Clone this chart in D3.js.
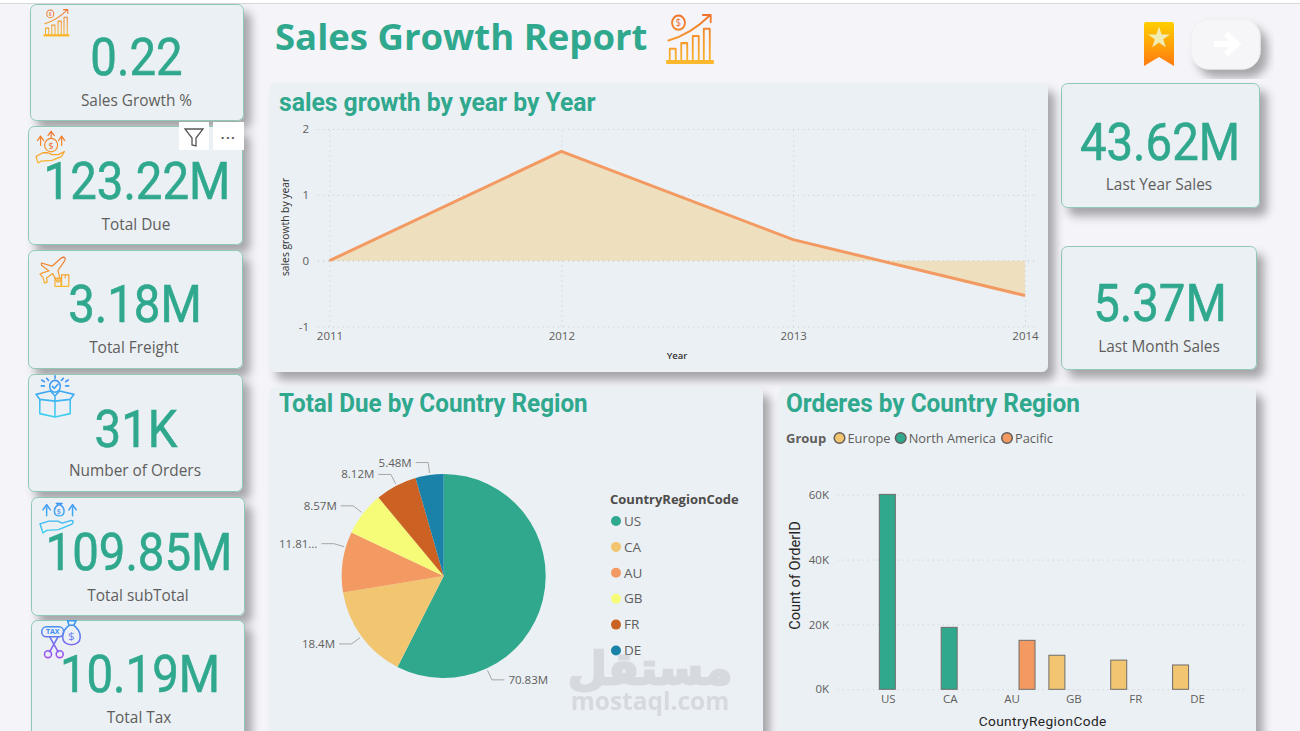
<!DOCTYPE html>
<html>
<head>
<meta charset="utf-8">
<script src="https://cdn.jsdelivr.net/npm/d3@7"></script>
<style>
  html, body { margin: 0; padding: 0; background: #f4f4f9; overflow: hidden; }
  svg { display: block; }
  text { font-family: "Open Sans", sans-serif; }
  .grid line { stroke: #c9cccf; stroke-dasharray: 1 4; }
  .grid .domain { display: none; }
  .ticks text { fill: #605e5c; font-size: 11.5px; }
</style>
</head>
<body>
<div id="chart"></div>
<script>
// kpi cards
var cardValues = ["0.22", "123.22M", "3.18M", "31K", "109.85M", "10.19M", "43.62M", "5.37M"];
var cardLabels = ["Sales Growth %", "Total Due", "Total Freight", "Number of Orders", "Total subTotal", "Total Tax", "Last Year Sales", "Last Month Sales"];

// line chart
var years = [2011, 2012, 2013, 2014];
var growth = [0, 1.66, 0.32, -0.53];
var growthTicks = [-1, 0, 1, 2];

// pie
var pieCodes = ["US", "CA", "AU", "GB", "FR", "DE"];
var totalDue = [70.83, 18.4, 11.81, 8.57, 8.12, 5.48];
var pieLabels = ["70.83M", "18.4M", "11.81...", "8.57M", "8.12M", "5.48M"];

// bars
var barCodes = ["US", "CA", "AU", "GB", "FR", "DE"];
var orderCounts = [60100, 19100, 15100, 10500, 9000, 7500];
var orderGroups = ["North America", "North America", "Pacific", "Europe", "Europe", "Europe"];
var groupNames = ["Europe", "North America", "Pacific"];
var orderTicks = [0, 20000, 40000, 60000];

var teal = "#2fa88e";
var grey = "#605e5c";
var din = "Roboto, sans-serif";

var svg = d3.select("#chart").append("svg").attr("width", 1300).attr("height", 731);
var defs = svg.append("defs");

var shadow = defs.append("filter").attr("id", "shadow")
    .attr("x", "-10%").attr("y", "-10%").attr("width", "130%").attr("height", "130%");
shadow.append("feDropShadow").attr("dx", 7).attr("dy", 8).attr("stdDeviation", 5)
    .attr("flood-color", "#000").attr("flood-opacity", 0.32);

function gradient(id, c1, c2) {
    var g = defs.append("linearGradient").attr("id", id)
        .attr("gradientUnits", "userSpaceOnUse")
        .attr("x1", 0).attr("y1", 0).attr("x2", 0).attr("y2", 100);
    g.append("stop").attr("offset", 0).attr("stop-color", c1);
    g.append("stop").attr("offset", 1).attr("stop-color", c2);
}
gradient("orange", "#ee6f2d", "#fbb92e");
gradient("blue", "#3d8df5", "#3fd0f0");
gradient("purple", "#2f9df0", "#a44df0");

// top edge of the browser window
svg.append("rect").attr("width", 1300).attr("height", 3).attr("fill", "#fff");
svg.append("rect").attr("y", 3).attr("width", 1300).attr("height", 1).attr("fill", "#d8d8da");

function panel(x, y, w, h) {
    svg.append("rect").attr("x", x).attr("y", y).attr("width", w).attr("height", h)
        .attr("rx", 7).attr("fill", "#ebf0f4").attr("filter", "url(#shadow)");
}

// din-ish text: roboto squeezed a bit
function squeezed(x, y, str, size, weight, anchor, fill, squeeze) {
    var t = svg.append("text").attr("x", x).attr("y", y).text(str)
        .attr("font-size", size).attr("font-weight", weight)
        .attr("text-anchor", anchor).attr("fill", fill)
        .style("font-family", din);
    var len = t.node().getComputedTextLength();
    t.attr("textLength", len * squeeze).attr("lengthAdjust", "spacingAndGlyphs");
    return t;
}

// ---- cards
var cardBoxes = [
    {x: 30, y: 4, w: 213, h: 116, cx: 136.5, vy: 75, ly: 106},
    {x: 28, y: 126, w: 214, h: 118, cx: 137, vy: 199, ly: 229.5},
    {x: 28, y: 250, w: 214, h: 118, cx: 135, vy: 322, ly: 352.5},
    {x: 28, y: 374, w: 214, h: 117, cx: 136, vy: 447, ly: 476},
    {x: 31, y: 497, w: 213, h: 118, cx: 139, vy: 570, ly: 600.5},
    {x: 31, y: 620, w: 213, h: 130, cx: 140, vy: 692, ly: 722.5},
    {x: 1061, y: 83, w: 198, h: 124, cx: 1160, vy: 160, ly: 189.5},
    {x: 1061, y: 246, w: 195, h: 123, cx: 1160, vy: 321, ly: 351.5}
];
cardBoxes.forEach(function(b, i) {
    svg.append("rect").attr("x", b.x + 0.5).attr("y", b.y + 0.5).attr("width", b.w).attr("height", b.h)
        .attr("rx", 6).attr("fill", "#ebf0f4").attr("stroke", "#8fc9b6").attr("stroke-width", 1)
        .attr("filter", "url(#shadow)");
    squeezed(b.cx, b.vy, cardValues[i], 52, 400, "middle", teal, 0.91)
        .attr("stroke", teal).attr("stroke-width", 0.6);
    svg.append("text").attr("x", b.cx - (i == 0 ? 0 : 1)).attr("y", b.ly).text(cardLabels[i])
        .attr("text-anchor", "middle").attr("font-size", 15.4).attr("fill", grey);
});

// ---- panels
panel(269, 83, 779, 289);
panel(269, 387, 494, 360);
panel(778, 387, 478, 360);

// ---- headings
svg.append("text").attr("x", 275).attr("y", 50).text("Sales Growth Report")
    .attr("font-size", 36.5).attr("font-weight", 700).attr("fill", teal);
squeezed(279, 111, "sales growth by year by Year", 26, 700, "start", teal, 0.95);
squeezed(279, 412, "Total Due by Country Region", 25.5, 700, "start", teal, 0.95);
squeezed(786, 412, "Orderes by Country Region", 25.5, 700, "start", teal, 0.955);

// ---- line chart
var lx = d3.scaleLinear().domain([2011, 2014]).range([329.5, 1025]);
var ly = d3.scaleLinear().domain([-1, 2]).range([326.5, 129]);

svg.append("g").attr("class", "grid").attr("transform", "translate(318,0)")
    .call(d3.axisLeft(ly).tickValues(growthTicks).tickSize(-717).tickFormat(""));
svg.append("g").attr("class", "grid").attr("transform", "translate(0,326.5)")
    .call(d3.axisBottom(lx).tickValues(years).tickSize(-197.5).tickFormat(""));

var lineData = years.map(function(y, i) { return {year: y, value: growth[i]}; });
svg.append("path").datum(lineData).attr("fill", "#eedfbe")
    .attr("d", d3.area().x(function(d) { return lx(d.year); }).y0(ly(0)).y1(function(d) { return ly(d.value); }));
svg.append("path").attr("class", "zero").attr("d", "M318," + ly(0) + "H1035")
    .attr("stroke", "#c9cccf").attr("stroke-dasharray", "1 4");
svg.append("path").datum(lineData).attr("fill", "none").attr("stroke", "#f39a62").attr("stroke-width", 3)
    .attr("d", d3.line().x(function(d) { return lx(d.year); }).y(function(d) { return ly(d.value); }));

var lyAxis = svg.append("g").attr("class", "ticks").attr("transform", "translate(318,0)")
    .call(d3.axisLeft(ly).tickValues(growthTicks).tickFormat(function(d) { return String(d); }).tickSize(0).tickPadding(9));
lyAxis.select(".domain").remove();
var lxAxis = svg.append("g").attr("class", "ticks").attr("transform", "translate(0,332)")
    .call(d3.axisBottom(lx).tickValues(years).tickFormat(d3.format("d")).tickSize(0).tickPadding(0));
lxAxis.select(".domain").remove();

svg.append("text").attr("transform", "translate(288.5,227) rotate(-90)").text("sales growth by year")
    .attr("text-anchor", "middle").attr("font-size", 10.3).attr("fill", "#333");
svg.append("text").attr("x", 677).attr("y", 359).text("Year")
    .attr("text-anchor", "middle").attr("font-size", 9.5).attr("font-weight", 600).attr("fill", "#333");

// ---- pie
var pieColor = d3.scaleOrdinal().domain(pieCodes)
    .range(["#2fa88e", "#f2c670", "#f39a62", "#f6fb78", "#cb6122", "#1a82a8"]);
var pieCx = 443.7, pieCy = 576, pieR = 102;
var pieData = pieCodes.map(function(c, i) { return {code: c, value: totalDue[i], label: pieLabels[i]}; });
var arcs = d3.pie().sort(null).value(function(d) { return d.value; })(pieData);

var pieG = svg.append("g").attr("transform", "translate(" + pieCx + "," + pieCy + ")");
pieG.selectAll("path.slice").data(arcs).enter().append("path").attr("class", "slice")
    .attr("fill", function(d) { return pieColor(d.data.code); })
    .attr("d", d3.arc().innerRadius(0).outerRadius(pieR));

// power bi pushes the leaders away from the slice middle, degrees clockwise from top
var leaderAngles = [155.1, 233.6, 286.4, 307.8, 332.5, 352.2];
arcs.forEach(function(d, i) {
    var a = leaderAngles[i] * Math.PI / 180;
    var sx = Math.sin(a), sy = -Math.cos(a);
    var ex = sx * (pieR + 12.5), ey = sy * (pieR + 12.5);
    var dir = sx > 0 ? 1 : -1;
    pieG.append("path").attr("fill", "none").attr("stroke", "#a6a6a6").attr("stroke-width", 1)
        .attr("d", "M" + sx * (pieR + 2) + "," + sy * (pieR + 2) + "L" + ex + "," + ey + "H" + (ex + dir * 12.5));
    pieG.append("text").attr("x", ex + dir * 16.5).attr("y", ey).attr("dy", "0.35em")
        .attr("text-anchor", dir > 0 ? "start" : "end")
        .attr("font-size", 11.5).attr("fill", grey).text(d.data.label);
});

svg.append("text").attr("x", 610).attr("y", 504).text("CountryRegionCode")
    .attr("font-size", 13).attr("font-weight", 700).attr("fill", "#4d4b49");
var pieLegendY = d3.scalePoint().domain(pieCodes).range([521, 650.5]);
pieCodes.forEach(function(c) {
    svg.append("circle").attr("cx", 616).attr("cy", pieLegendY(c)).attr("r", 5).attr("fill", pieColor(c));
    svg.append("text").attr("x", 624).attr("y", pieLegendY(c)).attr("dy", "0.35em").text(c)
        .attr("font-size", 13.5).attr("fill", grey);
});

// ---- bars
var bx = d3.scaleBand().domain(barCodes).range([857.4, 1228.5]);
var bsub = d3.scaleBand().domain(groupNames).range([bx.bandwidth() / 2 - 25, bx.bandwidth() / 2 + 23]);
var by = d3.scaleLinear().domain([0, 60000]).range([689.3, 494.7]);
var groupColor = d3.scaleOrdinal().domain(groupNames).range(["#f2c670", "#2fa88e", "#f39a62"]);

svg.append("g").attr("class", "grid").attr("transform", "translate(837.7,0)")
    .call(d3.axisLeft(by).tickValues(orderTicks).tickSize(-410).tickFormat(""));

svg.selectAll("rect.bar").data(barCodes).enter().append("rect").attr("class", "bar")
    .attr("x", function(d, i) { return bx(d) + bsub(orderGroups[i]); })
    .attr("y", function(d, i) { return by(orderCounts[i]); })
    .attr("width", bsub.bandwidth())
    .attr("height", function(d, i) { return by(0) - by(orderCounts[i]); })
    .attr("fill", function(d, i) { return groupColor(orderGroups[i]); })
    .attr("stroke", "#6f6d6b").attr("stroke-width", 1);

var byAxis = svg.append("g").attr("class", "ticks").attr("transform", "translate(829,0)")
    .call(d3.axisLeft(by).tickValues(orderTicks).tickSize(0).tickPadding(0)
        .tickFormat(function(d) { return d / 1000 + "K"; }));
byAxis.select(".domain").remove();
var bxAxis = svg.append("g").attr("class", "ticks").attr("transform", "translate(0,695)")
    .call(d3.axisBottom(bx).tickSize(0).tickPadding(0));
bxAxis.select(".domain").remove();

svg.append("text").attr("transform", "translate(799.5,575.5) rotate(-90)").text("Count of OrderID")
    .attr("text-anchor", "middle").attr("font-size", 14.6).attr("fill", "#252423").style("font-family", din);
svg.append("text").attr("x", 1042.7).attr("y", 726).text("CountryRegionCode")
    .attr("text-anchor", "middle").attr("font-size", 13.7).attr("letter-spacing", 0.4)
    .attr("fill", "#252423").style("font-family", din);

// group legend
svg.append("text").attr("x", 786).attr("y", 442.5).text("Group")
    .attr("font-size", 13).attr("font-weight", 700).attr("fill", grey);
var legendX = d3.scaleOrdinal().domain(groupNames).range([839.5, 900.7, 1007]);
groupNames.forEach(function(g) {
    svg.append("circle").attr("cx", legendX(g)).attr("cy", 438).attr("r", 5.3)
        .attr("fill", groupColor(g)).attr("stroke", grey).attr("stroke-width", 1.5);
    svg.append("text").attr("x", legendX(g) + 8).attr("y", 442.5).text(g)
        .attr("font-size", 12.8).attr("fill", grey);
});

// ---- icons, all drawn in a 100x100 box
function icon(x, y, w, h, grad) {
    return svg.append("g").attr("transform", "translate(" + x + "," + y + ") scale(" + w / 100 + "," + h / 100 + ")")
        .attr("fill", "none").attr("stroke", "url(#" + grad + ")")
        .attr("stroke-width", 4).attr("stroke-linejoin", "round").attr("stroke-linecap", "round");
}
function dollar(g, x, y, size, color) {
    g.append("text").attr("x", x).attr("y", y).attr("text-anchor", "middle").attr("dy", "0.36em")
        .attr("font-size", size).attr("stroke", "none").attr("fill", color).text("$");
}
function growthIcon(x, y, w, h) {
    var g = icon(x, y, w, h, "orange");
    g.append("circle").attr("cx", 25).attr("cy", 21).attr("r", 14);
    dollar(g, 25, 21, 20, "#ee6f2d");
    g.append("path").attr("d", "M3,56C35,48 65,32 94,6M78,6H95V20");
    g.selectAll("rect").data([[6, 72, 24], [31, 61, 35], [56, 47, 49], [80, 33, 63]]).enter().append("rect")
        .attr("x", function(d) { return d[0]; }).attr("y", function(d) { return d[1]; })
        .attr("width", 13).attr("height", function(d) { return d[2]; });
    g.append("rect").attr("x", 0).attr("y", 96).attr("width", 100).attr("height", 4);
}
growthIcon(667, 12, 46, 51);
growthIcon(44, 8, 25, 28);

var due = icon(35, 131, 31, 32, "orange");
due.append("circle").attr("cx", 52).attr("cy", 44).attr("r", 21);
dollar(due, 52, 44, 30, "#ee6f2d");
due.append("path").attr("d", "M52,20V8M42,14L52,1L62,14M18,45V22M8,30L18,16L28,30M86,45V22M76,30L86,16L96,30");
due.append("path").attr("d", "M3,80L25,68H42L55,74H75L95,64L85,80L55,92L20,94L10,100Z");

var freight = icon(40, 255, 30, 32, "orange");
freight.append("path").attr("d", "M5,25L40,35L70,10C80,4 88,8 82,18L60,48L68,80L58,85L42,58L22,72L24,85L15,88L10,70L0,60L10,55L30,50L5,32Z");
freight.append("path").attr("d", "M50,72H70V98H50ZM72,62H96V98H72ZM60,72V82M84,62V72");

var orders = icon(36, 375, 38, 42, "blue");
orders.append("circle").attr("cx", 50).attr("cy", 27).attr("r", 14);
orders.append("path").attr("d", "M43,27L48,32L58,22");
orders.append("path").attr("d", "M50,2V8M28,8L33,13M72,8L67,13M14,26H22M78,26H86M15,12L22,16M85,12L78,16");
orders.append("path").attr("d", "M10,58V92L50,100L90,92V58M50,62V100M10,58L0,46L38,38L50,50L62,38L100,46L90,58L50,62L10,58M50,50V62");

var sub = icon(40, 500, 37, 33, "blue");
sub.append("path").attr("d", "M50,15C36,22 34,48 52,48C70,48 68,22 54,15ZM44,10H60L54,15H50Z");
dollar(sub, 51, 33, 22, "#3d8df5");
sub.append("path").attr("d", "M18,48V22M8,30L18,14L28,30M88,48V22M78,30L88,14L98,30");
sub.append("path").attr("d", "M0,72L24,64H48L60,70L85,62C92,62 90,70 85,74L50,90L18,92L8,100Z");

var tax = icon(41, 620, 39, 38, "purple");
tax.append("rect").attr("x", 2).attr("y", 18).attr("width", 56).attr("height", 26).attr("rx", 12);
tax.append("text").attr("x", 30).attr("y", 38).attr("text-anchor", "middle").attr("font-size", 18)
    .attr("font-weight", 700).attr("stroke", "none").attr("fill", "#3d8df5").text("TAX");
tax.append("path").attr("d", "M72,14C50,30 48,65 78,65C108,65 106,30 84,14ZM68,2H90L84,14H72Z");
dollar(tax, 78, 42, 30, "#6b7df0");
tax.append("path").attr("d", "M22,44L44,84M44,44L22,84");
tax.append("circle").attr("cx", 18).attr("cy", 90).attr("r", 9);
tax.append("circle").attr("cx", 48).attr("cy", 90).attr("r", 9);

// bookmark
var ribbon = defs.append("linearGradient").attr("id", "ribbon").attr("x1", 0).attr("y1", 0).attr("x2", 0).attr("y2", 1);
ribbon.append("stop").attr("offset", 0).attr("stop-color", "#ffcf00");
ribbon.append("stop").attr("offset", 1).attr("stop-color", "#ff7a10");
svg.append("path").attr("d", "M1146,22H1172Q1174,22 1174,24V66L1159,57L1144,66V24Q1144,22 1146,22Z").attr("fill", "url(#ribbon)");
svg.append("path").attr("fill", "#f1ecb4")
    .attr("d", d3.symbol().type(d3.symbolStar).size(150)()).attr("transform", "translate(1159,38)");

// next page button
svg.append("rect").attr("x", 1191).attr("y", 19).attr("width", 69).attr("height", 50).attr("rx", 18)
    .attr("fill", "#f6f6f9").attr("stroke", "#eeeeee").attr("filter", "url(#shadow)");
svg.append("path").attr("d", "M1214,44H1236M1226,34L1237,44L1226,54").attr("fill", "none")
    .attr("stroke", "#fff").attr("stroke-width", 6);

// hover buttons over the total due card
svg.append("rect").attr("x", 179).attr("y", 122).attr("width", 30).attr("height", 28).attr("fill", "#fff");
svg.append("rect").attr("x", 213).attr("y", 122).attr("width", 31).attr("height", 28).attr("fill", "#fff");
svg.append("path").attr("d", "M185,129H203L196,138V146L192,145V138Z").attr("fill", "none")
    .attr("stroke", "#555").attr("stroke-width", 1.3);
svg.append("text").attr("x", 228.5).attr("y", 139).attr("text-anchor", "middle")
    .attr("font-size", 13).attr("font-weight", 700).attr("letter-spacing", 1.5).attr("fill", "#555").text("...");

// watermark
svg.append("text").attr("x", 650).attr("y", 684).attr("text-anchor", "middle").text("مستقل")
    .attr("font-size", 45).attr("font-weight", 700).attr("fill", "#c6c8cc").attr("stroke", "#c6c8cc")
    .attr("stroke-width", 2.5).attr("opacity", 0.55)
    .style("font-family", "'DejaVu Sans', sans-serif");
svg.append("text").attr("x", 650).attr("y", 710).attr("text-anchor", "middle").text("mostaql.com")
    .attr("font-size", 24.5).attr("font-weight", 700).attr("fill", "#c6c8cc").attr("opacity", 0.55);
</script>
</body>
</html>
